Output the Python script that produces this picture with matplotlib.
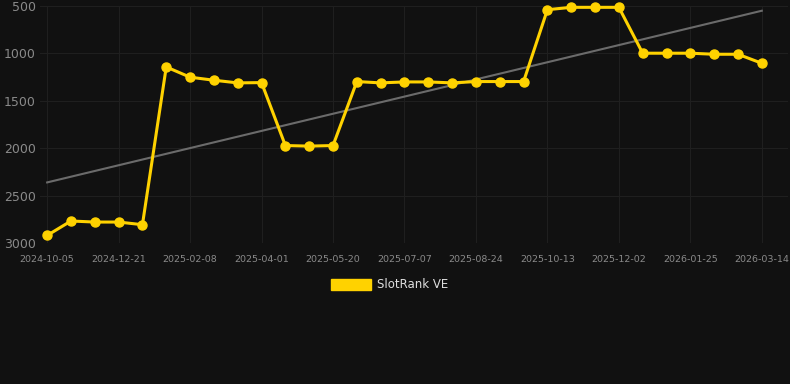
import matplotlib
matplotlib.use("Agg")
import matplotlib.pyplot as plt
import numpy as np

dates = [
    "2024-10-05", "2024-10-31", "2024-11-26", "2024-12-21", "2025-01-06", "2025-01-23",
    "2025-02-08", "2025-02-25", "2025-03-15", "2025-04-01", "2025-04-17", "2025-05-03",
    "2025-05-20", "2025-06-05", "2025-06-21", "2025-07-07", "2025-07-23", "2025-08-08",
    "2025-08-24", "2025-09-09", "2025-09-26", "2025-10-13", "2025-10-29", "2025-11-15",
    "2025-12-02", "2025-12-20", "2026-01-07", "2026-01-25", "2026-02-10", "2026-02-26",
    "2026-03-14",
]
rank = [
    2920, 2768, 2779, 2779, 2807, 1143, 1251, 1283, 1311, 1308, 1972, 1978,
    1972, 1297, 1311, 1301, 1301, 1311, 1297, 1297, 1297, 539, 514, 514,
    514, 998, 998, 998, 1009, 1009, 1104,
]
trend_ends = [2361, 550]
series_name = "SlotRank VE"

bg = "#111111"
yellow = "#FFD200"

fig = plt.figure(figsize=(7.9, 3.84), dpi=100, facecolor=bg)
ax = fig.add_axes([40 / 790, 1 - 243 / 384, 748 / 790, 237 / 384], facecolor=bg)

x = np.arange(len(dates))
ax.plot([x[0], x[-1]], trend_ends, color="#6b6b6b", lw=1.5, zorder=2)
ax.plot(x, rank, color=yellow, lw=2.2, marker="o", ms=6.5, zorder=3, clip_on=False,
        label=series_name)

ax.set_ylim(3000, 500)
ax.set_xlim(-0.3, 31.1)
ax.set_yticks([500, 1000, 1500, 2000, 2500, 3000])
ax.set_xticks(x[::3])
ax.set_xticklabels(dates[::3])

for s in ax.spines.values():
    s.set_visible(False)
ax.grid(True, color="#1f1f1f", lw=0.8)
ax.set_axisbelow(True)
ax.tick_params(axis="y", length=0, pad=3, labelsize=9, labelcolor="#8a8a8a")
ax.tick_params(axis="x", length=0, pad=9, labelsize=6.8, labelcolor="#8a8a8a")

handle = plt.Rectangle((0, 0), 1, 1, color=yellow)
leg = fig.legend([handle], [series_name], loc="center", bbox_to_anchor=(390 / 790, 1 - 285 / 384),
                 frameon=False, fontsize=8.5, handlelength=3.4, handleheight=1.1,
                 handletextpad=0.5, labelcolor="#dddddd")

fig.savefig("out.png", dpi=100, facecolor=bg)
